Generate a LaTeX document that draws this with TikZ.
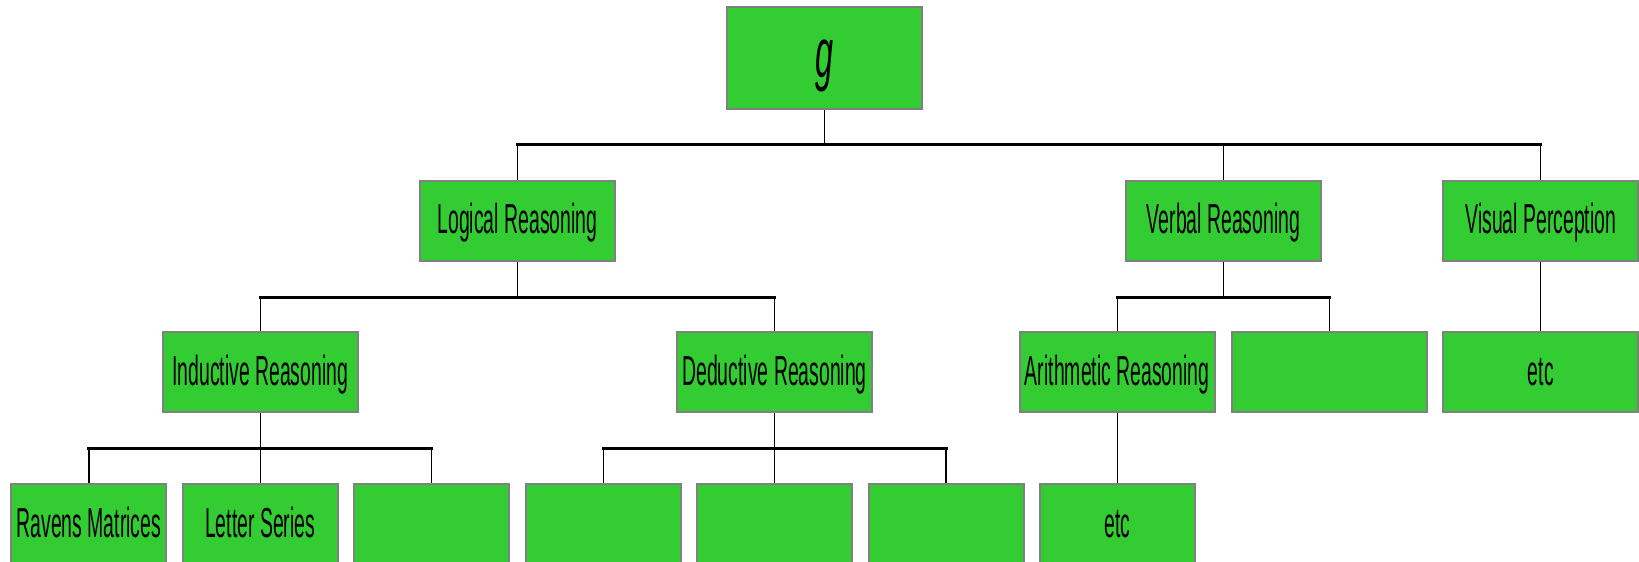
\documentclass[tikz,border=0pt]{standalone}
\usepackage{fontspec}
\setmainfont{Liberation Sans}
\newfontfamily\condensed[FakeStretch=0.462]{Liberation Sans}
\definecolor{boxgreen}{RGB}{51,204,51}
\definecolor{boxborder}{RGB}{128,128,128}
\tikzset{
  unit/.style={draw=boxborder, line width=2pt, fill=boxgreen, inner sep=0pt,
    minimum width=195pt, minimum height=80pt,
    text height=32pt, text depth=6pt,
    font=\condensed\fontsize{42}{42}\selectfont},
  leaf/.style={unit, minimum width=155pt},
  topunit/.style={unit, minimum height=102pt, text height=48pt, text depth=10pt,
    font=\condensed\itshape\fontsize{70}{70}\selectfont},
  stem/.style={draw=black, line width=1.3pt},
  bus/.style={draw=black, line width=3pt, line cap=rect},
}
\begin{document}
\begin{tikzpicture}[x=1pt,y=-1pt]
\useasboundingbox (0,0) rectangle (1639,562);
\clip (0,0) rectangle (1639,562);

% bus levels
\coordinate (busA) at (0,144.5);
\coordinate (busB) at (0,297);
\coordinate (busC) at (0,448);

% root
\node[topunit] (g) at (824.5,58) {g};

% first level
\node[unit] (lr) at (517.4,220.5) {Logical Reasoning};
\node[unit] (vr) at (1223.5,220.5) {Verbal Reasoning};
\node[unit] (vp) at (1540.8,220.5) {Visual Perception};

% second level
\node[unit] (ir) at (260.2,372) {Inductive Reasoning};
\node[unit] (dr) at (774.6,372) {Deductive Reasoning};
\node[unit] (ar) at (1117.2,372) {Arithmetic Reasoning};
\node[unit] (vx) at (1329.6,372) {};
\node[unit] (ve) at (1540.8,372) {etc};

% third level
\node[leaf] (rm) at (88.9,524) {Ravens Matrices};
\node[leaf] (ls) at (260.2,524) {Letter Series};
\node[leaf] (ix) at (431.6,524) {};
\node[leaf] (d1) at (603.2,524) {};
\node[leaf] (d2) at (774.6,524) {};
\node[leaf] (d3) at (946.0,524) {};
\node[leaf] (ae) at (1117.2,524) {etc};

% root to first level
\draw[stem] (g.south) -- (g.south |- busA);
\draw[bus] (lr.north |- busA) -- (vp.north |- busA);
\foreach \c in {lr,vr,vp} \draw[stem] (\c.north) -- (\c.north |- busA);

% first level to second level
\draw[stem] (lr.south) -- (lr.south |- busB);
\draw[bus] (ir.north |- busB) -- (dr.north |- busB);
\foreach \c in {ir,dr} \draw[stem] (\c.north) -- (\c.north |- busB);

\draw[stem] (vr.south) -- (vr.south |- busB);
\draw[bus] (ar.north |- busB) -- (vx.north |- busB);
\foreach \c in {ar,vx} \draw[stem] (\c.north) -- (\c.north |- busB);

\draw[stem] (vp.south) -- (ve.north);

% second level to third level
\draw[stem] (ir.south) -- (ir.south |- busC);
\draw[bus] (rm.north |- busC) -- (ix.north |- busC);
\foreach \c in {rm,ls,ix} \draw[stem] (\c.north) -- (\c.north |- busC);

\draw[stem] (dr.south) -- (dr.south |- busC);
\draw[bus] (d1.north |- busC) -- (d3.north |- busC);
\foreach \c in {d1,d2,d3} \draw[stem] (\c.north) -- (\c.north |- busC);

\draw[stem] (ar.south) -- (ae.north);
\end{tikzpicture}
\end{document}
